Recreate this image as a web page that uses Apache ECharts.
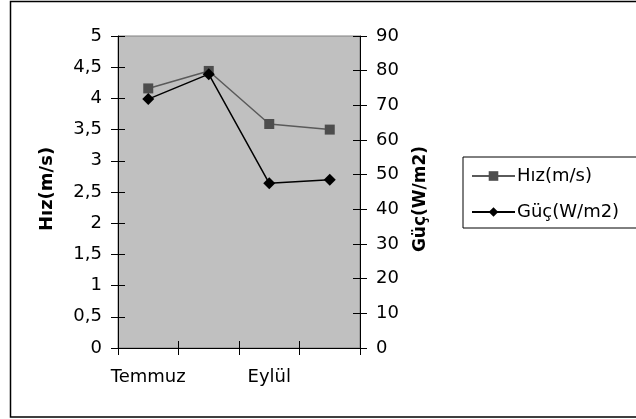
<!DOCTYPE html>
<html>
<head>
<meta charset="utf-8">
<script src="https://cdn.jsdelivr.net/npm/echarts@6/dist/echarts.min.js"></script>
<style>html,body{margin:0;padding:0;background:#fff}#c{width:636px;height:419px}</style>
</head>
<body>
<div id="c"></div>
<script>
var categories = ['Temmuz', 'Ağustos', 'Eylül', 'Ekim'];
var hizValues = [4.16, 4.44, 3.59, 3.5];
var gucValues = [71.8, 79.0, 47.5, 48.5];
var leftTicks = { min: 0, max: 5, interval: 0.5 };
var rightTicks = { min: 0, max: 90, interval: 10 };

var FONT = 'DejaVu Sans';
var chart = echarts.init(document.getElementById('c'), null, { renderer: 'canvas' });
var tickOut = { show: true, inside: false, length: 7, lineStyle: { color: '#000', width: 1 } };
var tickIn = { show: true, inside: true, length: 7, lineStyle: { color: '#000', width: 1 } };
chart.setOption({
  animation: false,
  backgroundColor: '#fff',
  textStyle: { fontFamily: FONT, color: '#000' },
  graphic: [{
    type: 'rect', silent: true,
    shape: { x: 10.5, y: 1.5, width: 700, height: 415.5 },
    style: { fill: 'none', stroke: '#000', lineWidth: 1.5 }
  }],
  grid: {
    left: 118, right: 276, top: 36, bottom: 71,
    show: true, backgroundColor: '#c0c0c0', borderColor: '#808080', borderWidth: 1
  },
  legend: {
    orient: 'vertical', left: 463, top: 157,
    padding: [10, 30, 7, 8], itemGap: 18, itemWidth: 43, itemHeight: 12,
    borderColor: '#000', borderWidth: 1, backgroundColor: '#fff',
    textStyle: { fontFamily: FONT, fontSize: 18, color: '#000', padding: [0, 0, 0, -3] },
    data: ['Hız(m/s)', 'Güç(W/m2)']
  },
  xAxis: [{
    type: 'category', data: categories, position: 'bottom', boundaryGap: true,
    axisLine: { show: true, lineStyle: { color: '#000', width: 1 } },
    axisTick: Object.assign({ interval: 0 }, tickOut),
    axisLabel: { interval: 1, margin: 20, fontFamily: FONT, fontSize: 18, color: '#000' },
    splitLine: { show: false }
  }, {
    type: 'category', data: categories, position: 'bottom', boundaryGap: true,
    axisLine: { show: false },
    axisTick: Object.assign({ interval: 0 }, tickIn),
    axisLabel: { show: false }, splitLine: { show: false }
  }],
  yAxis: [{
    type: 'value', position: 'left', min: leftTicks.min, max: leftTicks.max, interval: leftTicks.interval,
    name: 'Hız(m/s)', nameLocation: 'middle', nameGap: 62, nameRotate: 90,
    nameTextStyle: { fontFamily: FONT, fontSize: 18, fontWeight: 'bold', color: '#000', padding: [0, 0, 0, 6] },
    axisLine: { show: true, lineStyle: { color: '#000', width: 1 } },
    axisTick: tickOut,
    axisLabel: { margin: 16, fontFamily: FONT, fontSize: 18, color: '#000',
      formatter: function (v) { return String(v).replace('.', ','); } },
    splitLine: { show: false }
  }, {
    type: 'value', position: 'right', min: rightTicks.min, max: rightTicks.max, interval: rightTicks.interval,
    name: 'Güç(W/m2)', nameLocation: 'middle', nameGap: 52, nameRotate: 90,
    nameTextStyle: { fontFamily: FONT, fontSize: 17, fontWeight: 'bold', color: '#000', padding: [0, 14, 0, 0] },
    axisLine: { show: true, lineStyle: { color: '#000', width: 1 } },
    axisTick: tickOut,
    axisLabel: { margin: 16, fontFamily: FONT, fontSize: 18, color: '#000' },
    splitLine: { show: false }
  }, {
    type: 'value', position: 'left', min: leftTicks.min, max: leftTicks.max, interval: leftTicks.interval,
    axisLine: { show: false }, axisTick: tickIn, axisLabel: { show: false }, splitLine: { show: false }
  }, {
    type: 'value', position: 'right', min: rightTicks.min, max: rightTicks.max, interval: rightTicks.interval,
    axisLine: { show: false }, axisTick: tickIn, axisLabel: { show: false }, splitLine: { show: false }
  }],
  series: [{
    name: 'Hız(m/s)', type: 'line', yAxisIndex: 0, data: hizValues,
    symbol: 'rect', symbolSize: 10,
    lineStyle: { color: '#5a5a5a', width: 1.5 },
    itemStyle: { color: '#4d4d4d', borderWidth: 0 }
  }, {
    name: 'Güç(W/m2)', type: 'line', yAxisIndex: 1, data: gucValues,
    symbol: 'diamond', symbolSize: 12,
    lineStyle: { color: '#000', width: 1.5 },
    itemStyle: { color: '#000', borderWidth: 0 }
  }]
});
</script>
</body>
</html>
